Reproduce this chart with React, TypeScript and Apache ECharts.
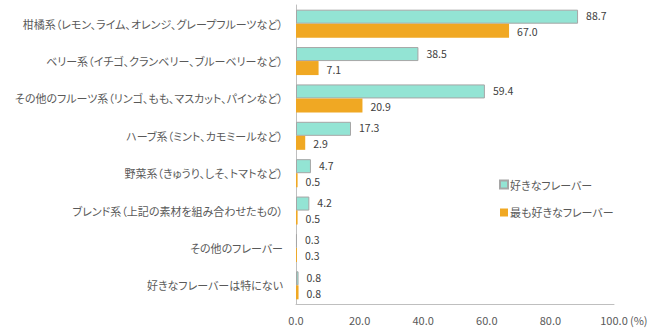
import React, { useEffect, useRef } from "react";
import * as echarts from "echarts";

const categories = [
  "柑橘系（レモン、ライム、オレンジ、グレープフルーツなど）",
  "ベリー系（イチゴ、クランベリー、ブルーベリーなど）",
  "その他のフルーツ系（リンゴ、もも、マスカット、パインなど）",
  "ハーブ系（ミント、カモミールなど）",
  "野菜系（きゅうり、しそ、トマトなど）",
  "ブレンド系（上記の素材を組み合わせたもの）",
  "その他のフレーバー",
  "好きなフレーバーは特にない",
];
const seriesNames = ["好きなフレーバー", "最も好きなフレーバー"];
const liked = [88.7, 38.5, 59.4, 17.3, 4.7, 4.2, 0.3, 0.8];
const favorite = [67.0, 7.1, 20.9, 2.9, 0.5, 0.5, 0.3, 0.8];

const FONT = '"Noto Sans CJK JP", "Noto Sans", sans-serif';

export default function App() {
  const ref = useRef<HTMLDivElement>(null);
  useEffect(() => {
    if (!ref.current) return;
    const chart = echarts.init(ref.current, undefined, { renderer: "svg" });
    const barLabel = (dy: number) => ({
      show: true,
      position: "right",
      distance: 8,
      offset: [0, dy],
      color: "#404040",
      fontSize: 10.5,
      lineHeight: 11,
      fontFamily: FONT,
      formatter: (p: any) => Number(p.value).toFixed(1),
    });
    chart.setOption({
      animation: false,
      textStyle: { fontFamily: FONT },
      grid: {
        left: 296,
        right: 49,
        top: 5,
        bottom: 25,
        containLabel: false,
        outerBoundsMode: "none",
      },
      legend: {
        orient: "vertical",
        left: 494,
        top: 174,
        itemWidth: 8,
        itemHeight: 8,
        itemGap: 17,
        icon: "rect",
        textStyle: { fontSize: 11, color: "#595959", fontFamily: FONT, padding: [0, 0, 0, -3] },
        data: seriesNames,
      },
      xAxis: {
        type: "value",
        min: 0,
        max: 100,
        interval: 20,
        splitLine: { show: false },
        axisLine: { show: true, lineStyle: { color: "#bfbfbf" } },
        axisTick: { show: false },
        axisLabel: {
          color: "#595959",
          fontSize: 11,
          fontFamily: FONT,
          margin: 10,
          formatter: (v: number) => v.toFixed(1),
        },
      },
      yAxis: {
        type: "category",
        data: categories,
        inverse: true,
        axisLine: { show: true, lineStyle: { color: "#bfbfbf" } },
        axisTick: { show: false },
        axisLabel: { color: "#595959", fontSize: 11, fontFamily: FONT, margin: 13 },
      },
      graphic: [
        {
          type: "text",
          left: 630,
          top: 314,
          style: { text: "(%)", fill: "#595959", fontSize: 11, fontFamily: FONT },
        },
      ],
      series: [
        {
          name: seriesNames[0],
          type: "bar",
          data: liked,
          barGap: "0%",
          barCategoryGap: "25%",
          itemStyle: { color: "#93E4D4", borderColor: "#a6a6a6", borderWidth: 1 },
          label: barLabel(-1),
        },
        {
          name: seriesNames[1],
          type: "bar",
          data: favorite,
          barGap: "0%",
          barCategoryGap: "25%",
          itemStyle: { color: "#F0A823" },
          label: barLabel(1),
        },
      ],
    });
    return () => chart.dispose();
  }, []);
  return (
    <div
      ref={ref}
      style={{
        width: 663,
        height: 329,
        position: "absolute",
        left: 0,
        top: 0,
        fontFeatureSettings: '"palt"',
      }}
    />
  );
}
